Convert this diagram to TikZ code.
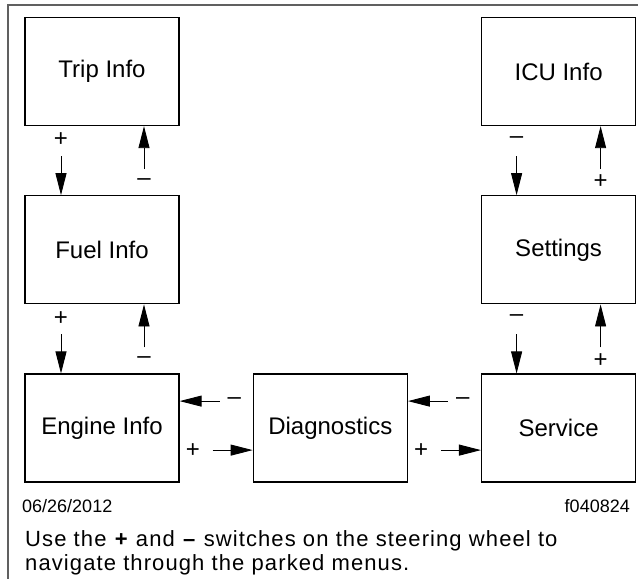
\documentclass[tikz,border=0pt]{standalone}
\usepackage{fontspec}
\setmainfont{Liberation Sans}
\usetikzlibrary{arrows.meta, positioning}
\definecolor{framegray}{HTML}{606060}

\begin{document}
\begin{tikzpicture}[x=1pt, y=-1pt, node distance=69pt and 73pt,
  block/.style={rectangle, draw, line width=1.3pt, minimum width=154pt, minimum height=108pt, font=\fontsize{24}{28}\selectfont, align=center},
  arrow/.style={-{Triangle[length=22pt, width=11pt]}, line width=0.9pt},
  sign/.style={font=\fontsize{24}{24}\selectfont, inner sep=0pt}]

\useasboundingbox (0,0) rectangle (638,579);
\draw[framegray, line width=1.5pt] (8,579) -- (8,5) -- (638,5);

\node[block] (trip) at (102,71.5) {Trip Info};
\node[block, below=of trip] (fuel) {Fuel Info};
\node[block, below=of fuel] (engine) {Engine Info};
\node[block, right=of engine] (diag) {Diagnostics};
\node[block, right=of diag] (service) {Service};
\node[block, above=of service] (settings) {Settings};
\node[block, above=of settings] (icu) {ICU Info};

\draw[arrow, shorten <=30pt] ([xshift=-41pt]trip.south) -- ([xshift=-41pt]fuel.north) node[sign, pos=0.2] {+};
\draw[arrow, shorten <=26pt] ([xshift=42pt]fuel.north) -- ([xshift=42pt]trip.south) node[sign, pos=0.19] {–};
\draw[arrow, shorten <=30pt] ([xshift=-41pt]fuel.south) -- ([xshift=-41pt]engine.north) node[sign, pos=0.2] {+};
\draw[arrow, shorten <=26pt] ([xshift=42pt]engine.north) -- ([xshift=42pt]fuel.south) node[sign, pos=0.19] {–};
\draw[arrow, shorten <=30pt] ([xshift=-42pt]icu.south) -- ([xshift=-42pt]settings.north) node[sign, pos=0.2] {–};
\draw[arrow, shorten <=26pt] ([xshift=42pt]settings.north) -- ([xshift=42pt]icu.south) node[sign, pos=0.19] {+};
\draw[arrow, shorten <=30pt] ([xshift=-42pt]settings.south) -- ([xshift=-42pt]service.north) node[sign, pos=0.2] {–};
\draw[arrow, shorten <=26pt] ([xshift=42pt]service.north) -- ([xshift=42pt]settings.south) node[sign, pos=0.19] {+};

\draw[arrow, shorten <=33pt] ([yshift=27pt]diag.west) -- ([yshift=27pt]engine.east) node[sign, pos=0.25] {–};
\draw[arrow, shorten <=33pt] ([yshift=-22pt]engine.east) -- ([yshift=-22pt]diag.west) node[sign, pos=0.18] {+};
\draw[arrow, shorten <=33pt] ([yshift=27pt]service.west) -- ([yshift=27pt]diag.east) node[sign, pos=0.25] {–};
\draw[arrow, shorten <=33pt] ([yshift=-22pt]diag.east) -- ([yshift=-22pt]service.west) node[sign, pos=0.18] {+};

\node[anchor=base west, font=\fontsize{18}{18}\selectfont, inner sep=0pt] (date) at (22,512) {06/26/2012};
\node[anchor=base east, font=\fontsize{18}{18}\selectfont, inner sep=0pt] (figid) at (630,512) {f040824};
\node[anchor=north west, align=left, font=\fontsize{22}{24}\selectfont\addfontfeatures{LetterSpace=5}, inner sep=0pt] (caption) at (25,530) {Use the \textbf{+} and \textbf{–} switches on the steering wheel to\\navigate through the parked menus.};
\end{tikzpicture}
\end{document}
